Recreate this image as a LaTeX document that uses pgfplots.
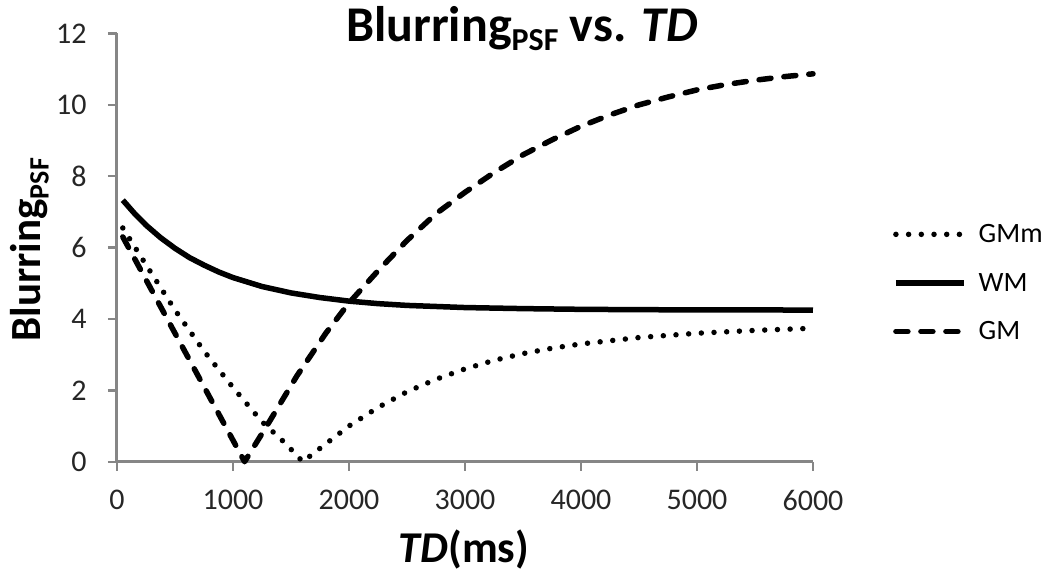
\documentclass[border=0pt]{standalone}
\usepackage{fontspec}
\setmainfont{Carlito}
\usepackage{pgfplots}
\pgfplotsset{compat=1.18}
\definecolor{axisgray}{RGB}{134,134,134}
\begin{document}
\begin{tikzpicture}
\path[use as bounding box] (-117pt,-111.3pt) rectangle (925pt,461.7pt);
\begin{axis}[
  at={(0pt,0pt)}, anchor=south west,
  scale only axis, width=696pt, height=428.2pt,
  xmin=0, xmax=6000, ymin=0, ymax=12,
  axis x line=bottom, axis y line=left,
  axis line style={-, draw=axisgray, line width=3pt},
  xtick={0,1000,...,6000}, ytick={0,2,...,12},
  tick align=outside, major tick length=9pt,
  tick style={draw=axisgray, line width=2.4pt},
  /pgf/number format/1000 sep={},
  /pgf/number format/assume math mode=true,
  tick label style={font=\fontsize{30}{30}\selectfont, text=black!85},
  xticklabel style={yshift=-16pt},
  yticklabel style={xshift=-18pt},
  clip=false,
  legend cell align=left,
  legend style={draw=none, fill=none, at={(1.1106,0.4175)}, anchor=west,
    font=\fontsize{28}{28}\selectfont, row sep=25pt,
    /tikz/every odd column/.append style={column sep=10pt}},
  legend image code/.code={\draw[#1] (0pt,0pt) -- (68pt,0pt);},
]
\addplot[black, line width=5.5pt, line cap=round, dash pattern=on 0pt off 12.7pt] coordinates {
(50,6.55) (250,5.52) (500,4.25) (750,3.10) (1000,2.08) (1250,1.12) (1450,0.52) (1601,0)
(1800,0.50) (2000,1.00) (2250,1.52) (2500,1.96) (2750,2.31) (3000,2.60) (3250,2.84)
(3500,3.03) (3750,3.18) (4000,3.30) (4500,3.48) (5000,3.60) (5500,3.68) (6000,3.74)};
\addlegendentry{GMm}
\addplot[black, line width=5.5pt, line join=round] coordinates {
(50,7.33) (150,6.96) (250,6.63) (375,6.28) (500,5.98) (625,5.72) (750,5.51) (875,5.32)
(1000,5.16) (1250,4.91) (1500,4.73) (1750,4.60) (2000,4.50) (2250,4.43) (2500,4.38)
(2750,4.35) (3000,4.32) (3500,4.29) (4000,4.27) (4500,4.26) (5000,4.255) (6000,4.25)};
\addlegendentry{WM}
\addplot[black, line width=5.5pt, line cap=round, line join=round, dash pattern=on 12pt off 13pt] coordinates {
(50,6.30) (1100,0) (1300,1.05) (1550,2.40) (1800,3.60) (2000,4.45) (2250,5.35) (2500,6.20)
(2750,6.95) (3000,7.55) (3250,8.10) (3500,8.60) (3750,9.02) (4000,9.40) (4250,9.72)
(4500,10.00) (4750,10.22) (5000,10.42) (5250,10.57) (5500,10.69) (5750,10.79) (6000,10.87)};
\addlegendentry{GM}
\node[anchor=base, font=\bfseries\fontsize{50}{50}\selectfont] at (rel axis cs:0.582,0.9806)
  {Blurring\raisebox{-0.18em}{\fontsize{32}{32}\selectfont PSF} vs. \textit{TD}};
\node[rotate=90, anchor=base, font=\bfseries\fontsize{43}{43}\selectfont] at (rel axis cs:-0.1106,0.495)
  {Blurring\raisebox{-0.2em}{\fontsize{28}{28}\selectfont PSF}};
\node[anchor=base, font=\bfseries\fontsize{44}{44}\selectfont] at (rel axis cs:0.4986,-0.2343)
  {\textit{TD}(ms)};
\end{axis}
\end{tikzpicture}
\end{document}
